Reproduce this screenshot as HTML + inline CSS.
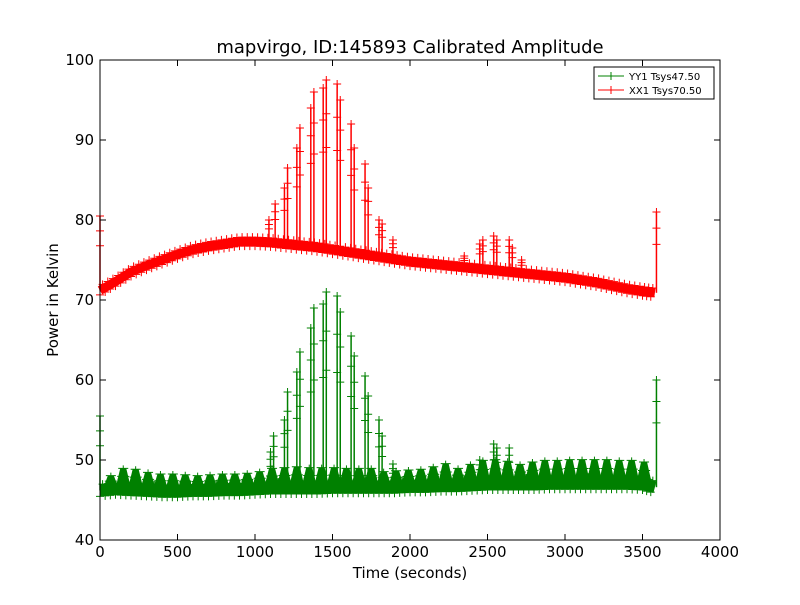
<!DOCTYPE html>
<html><head><meta charset="utf-8"><style>
body{margin:0;background:#fff;}
svg{font-family:"DejaVu Sans","Liberation Sans",sans-serif;}
</style></head><body>
<svg id="chart" width="800" height="600">
<rect x="0" y="0" width="800" height="600" fill="#fff"/>
<text x="410" y="53" font-size="18" text-anchor="middle">mapvirgo, ID:145893 Calibrated Amplitude</text>
<text x="410" y="578" font-size="15" text-anchor="middle">Time (seconds)</text>
<text x="58" y="300" font-size="15" text-anchor="middle" transform="rotate(-90 58 300)">Power in Kelvin</text>
<g id="plot"></g>
<rect x="100" y="60" width="620" height="480" fill="none" stroke="#000" stroke-width="1"/>
<g id="ticks"></g>
<g>
<rect x="594" y="67" width="120" height="32" fill="#fff" stroke="#000" stroke-width="1"/>
<g>
<line x1="598" y1="76" x2="624" y2="76" stroke="green"/><path d="M607 76h8M611 72v8" stroke="green"/>
<text x="629" y="80" font-size="10">YY1 Tsys47.50</text></g>
<g>
<line x1="598" y1="90" x2="624" y2="90" stroke="red"/><path d="M607 90h8M611 86v8" stroke="red"/>
<text x="629" y="94" font-size="10">XX1 Tsys70.50</text></g>
</g>
</svg>
<script>
const xTicks=[0,500,1000,1500,2000,2500,3000,3500,4000];
const yTicks=[40,50,60,70,80,90,100];
const times=[0,100,200,300,400,500,600,700,800,900,1000,1100,1200,1300,1400,1500,1600,1700,1800,1900,2000,2100,2200,2300,2400,2500,2600,2700,2800,2900,3000,3100,3200,3300,3400,3500,3580];
const xxBase=[71.2,72.3,73.5,74.3,75,75.7,76.3,76.7,77,77.3,77.3,77.2,77,76.8,76.6,76.3,76,75.7,75.4,75.1,74.8,74.6,74.4,74.2,74,73.8,73.6,73.4,73.2,73,72.8,72.5,72.2,71.8,71.4,71.1,70.9];
const yyBase=[46.2,46.4,46.3,46.2,46.1,46.1,46.2,46.2,46.3,46.3,46.4,46.5,46.5,46.5,46.5,46.6,46.6,46.6,46.6,46.6,46.7,46.7,46.8,46.8,46.9,47,47,47,47,47.1,47.1,47.1,47.1,47.1,47.1,47,46.6];
const yyBumpT=[70,150,230,310,390,470,550,630,710,790,870,950,1030,1110,1190,1270,1350,1430,1510,1590,1670,1750,1830,1910,1990,2070,2150,2230,2310,2390,2470,2550,2630,2710,2790,2870,2950,3030,3110,3190,3270,3350,3430,3510];
const yyBumpV=[48.3,49.2,49.1,48.7,48.5,48.5,48.4,48.3,48.4,48.5,48.5,48.6,48.8,49.2,49.3,49.4,49.3,49.3,49.3,49.2,49.2,49.2,48.8,48.9,49,49.1,49.4,49.8,49.2,49.7,50.2,50.3,50.1,49.7,50,50.2,50.2,50.3,50.3,50.3,50.3,50.2,50.2,50];
const xxSpikeT=[0,1090,1130,1190,1210,1270,1290,1360,1380,1440,1460,1530,1550,1620,1640,1710,1730,1800,1820,1890,2350,2450,2470,2540,2560,2640,2660,2720,3590];
const xxSpikeV=[80.5,80,82,84,86.5,89,91.5,94,96,96.5,97.5,97,95,92,89,87,84,80,79.5,77.5,75.5,77,77.5,78,77.5,77.5,76.5,75,81];
const yySpikeT=[0,1100,1120,1190,1210,1270,1290,1360,1380,1440,1460,1530,1550,1620,1640,1710,1730,1800,1820,1890,2450,2540,2560,2640,3590];
const yySpikeV=[55.5,51,53,55,58.5,61,63.5,66.5,69,69.5,71,70.5,68.5,65.5,63,60.5,58,55,53,49.5,50,52,51.5,51.5,60];
const NS="http://www.w3.org/2000/svg";
const X=t=>100+t*620/4000, Y=v=>540-(v-40)*8;
function mk(tag,attrs,parent){const e=document.createElementNS(NS,tag);for(const k in attrs)e.setAttribute(k,attrs[k]);parent.appendChild(e);return e;}
function baseAt(t,base){if(t<=times[0])return base[0];for(let i=1;i<times.length;i++){if(t<=times[i]){const f=(t-times[i-1])/(times[i]-times[i-1]);return base[i-1]+f*(base[i]-base[i-1]);}}return base[base.length-1];}
const plot=document.getElementById('plot');
function series(name,color,base,st,sv,band,bt,bv){
  const g=mk('g',{},plot);
  
  
  const pts=times.map((t,i)=>X(t)+','+Y(base[i])).join(' ');
  const pl=mk('polyline',{points:pts,fill:'none',stroke:color,'stroke-width':band,'stroke-linejoin':'round'},g);
  
  
  times.forEach((t,i)=>{
    if(i===times.length-1)return;
    const x0=X(t),x1=X(times[i+1]),y0=Y(base[i]),y1=Y(base[i+1]);
    for(let k=0;k<6;k++){const f=k/6;const x=x0+(x1-x0)*f;const y=y0+(y1-y0)*f+(k%2?-band/2:band/2);
      const m=mk('path',{d:`M${x-4} ${y}h8M${x} ${y-4}v8`,stroke:color,'stroke-width':1},g);
      
      }
  });
  bt.forEach((t,i)=>{
    const b=baseAt(t,base),x=X(t),yb=Y(b),yt=Y(bv[i]);
    const p=mk('polygon',{points:`${x-8},${yb} ${x-3},${yt+2} ${x+3},${yt+2} ${x+8},${yb}`,fill:color},g);
    
    
    [0,0.35,0.7].forEach(f=>{const y=yt+2+(yb-yt)*f;
      const m=mk('path',{d:`M${x-5-f*3} ${y}h${10+f*6}M${x} ${y-3}v6`,stroke:color,'stroke-width':1},g);
      
      });
  });
  st.forEach((t,i)=>{
    const b=baseAt(t,base),x=X(t);
    const s=mk('line',{x1:x,y1:Y(b),x2:x,y2:Y(sv[i]),stroke:color,'stroke-width':1.5},g);
    
    
    [1,0.8,0.6].forEach(f=>{const y=Y(b+(sv[i]-b)*f);
      const m=mk('path',{d:`M${x-4} ${y}h8M${x} ${y-4}v8`,stroke:color,'stroke-width':1},g);
      
      });
  });
}
series('xx1','red',xxBase,xxSpikeT,xxSpikeV,9,[],[]);
series('yy1','green',yyBase,yySpikeT,yySpikeV,12,yyBumpT,yyBumpV);
const tk=document.getElementById('ticks');
xTicks.forEach(t=>{const x=X(t);
  mk('line',{x1:x,y1:540,x2:x,y2:534,stroke:'#000'},tk);mk('line',{x1:x,y1:60,x2:x,y2:66,stroke:'#000'},tk);
  const l=mk('text',{x:x,y:557,'font-size':15,'text-anchor':'middle'},tk);l.textContent=t;
  
  });
yTicks.forEach(v=>{const y=Y(v);
  mk('line',{x1:100,y1:y,x2:106,y2:y,stroke:'#000'},tk);mk('line',{x1:720,y1:y,x2:714,y2:y,stroke:'#000'},tk);
  const l=mk('text',{x:94,y:y+5,'font-size':15,'text-anchor':'end'},tk);l.textContent=v;
  
  });
</script>
</body></html>
